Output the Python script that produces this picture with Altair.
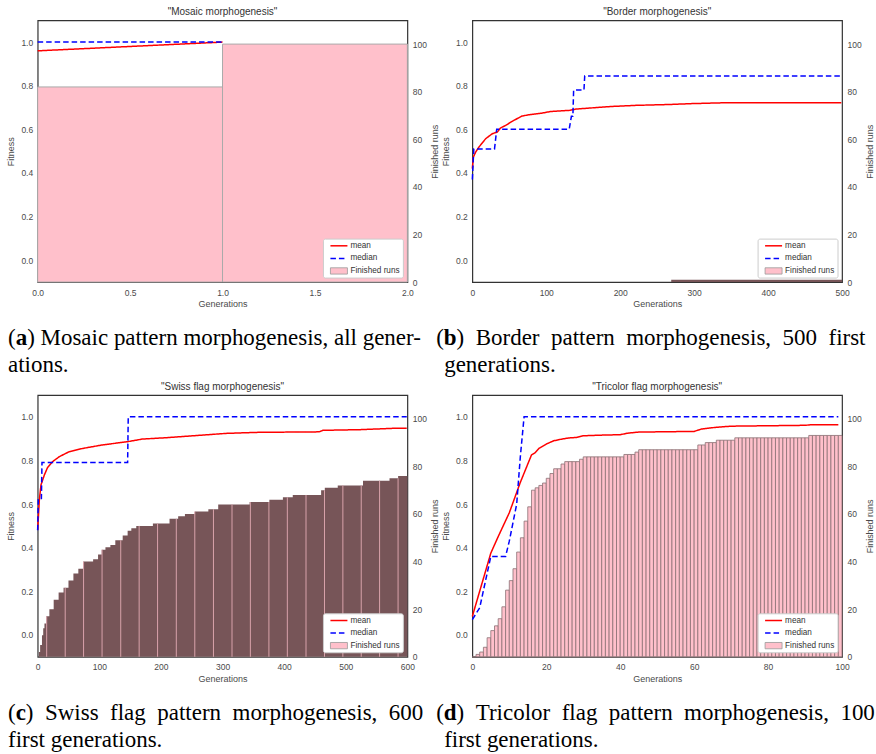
import bisect
import altair as alt
import pandas as pd

W, H = 370, 262
PINK = "#ffc0cb"
DARK = "#775558"

# ---------------- (a) Mosaic ----------------
a_bar_gen = [0, 1]
a_bar_runs = [82, 100]
a_mean_gen = [0, 1]
a_mean_fit = [0.96, 1.0]
a_median_gen = [0, 1]
a_median_fit = [1.0, 1.0]

# ---------------- (b) Border ----------------
b_step_gen = [269, 500]
b_step_runs = [1, 1]
b_mean_gen = [0, 1.4, 4.5, 9, 18, 27, 34, 38, 45, 54, 67, 77, 95, 106, 131, 140,
              176, 189, 221, 266, 297, 342, 401, 499]
b_mean_fit = [0.42, 0.473, 0.496, 0.519, 0.557, 0.58, 0.588, 0.606, 0.618, 0.637,
              0.661, 0.667, 0.675, 0.682, 0.687, 0.693, 0.702, 0.705, 0.71, 0.714,
              0.718, 0.722, 0.722, 0.722]
b_median_gen = [0, 2, 30, 33, 131, 134, 136, 137, 151, 152, 499]
b_median_fit = [0.37, 0.51, 0.51, 0.60, 0.60, 0.66, 0.66, 0.78, 0.78, 0.845, 0.845]

# ---------------- (c) Swiss flag ----------------
c_step_gen = [0, 2, 4, 7, 9, 11, 14, 19, 26, 34, 42, 50, 58, 66, 74, 90, 98, 104,
              110, 118, 126, 138, 146, 152, 160, 187, 214, 228, 239, 255, 277, 293,
              344, 376, 398, 414, 460, 466, 487, 528, 571, 585, 600]
c_step_runs = [0, 2, 5, 9, 12, 14, 17, 20, 24, 27, 29, 32, 35, 37, 40, 41, 43, 45,
               46, 47, 49, 51, 53, 54, 55, 56, 58, 59, 60, 61, 62, 64,
               65, 66, 67, 68, 70, 71, 72, 74, 75, 76, 76]
c_stripe_gen = [14.6, 44.7, 74.5, 104.5, 134.8, 164.7, 194.6, 225, 255, 285.3,
                315.4, 345.2, 375.3, 405.2, 435.5, 465.5, 495.3, 525.1, 554.9, 584.9]
c_mean_gen = [0, 2.7, 5.4, 10.8, 16, 24, 35, 51, 73, 105, 146, 170, 208, 252, 306,
              360, 414, 457, 463, 522, 576, 599]
c_mean_fit = [0.482, 0.619, 0.688, 0.733, 0.767, 0.794, 0.817, 0.840, 0.855, 0.871,
              0.886, 0.898, 0.904, 0.913, 0.924, 0.929, 0.93, 0.931, 0.938, 0.941,
              0.947, 0.947]
c_median_gen = [0, 1, 6, 7, 146, 147, 599]
c_median_fit = [0.48, 0.62, 0.62, 0.79, 0.79, 1.0, 1.0]

# ---------------- (d) Tricolor flag ----------------
d_bar_runs = [0, 1, 2, 4, 8, 11, 13, 16, 21, 28, 32, 37, 44, 50, 57, 63, 70, 71, 72, 73,
              75, 77, 79, 79, 81, 82, 82, 82, 82, 83, 84, 84, 84, 84, 84, 84, 84, 84, 84, 84,
              84, 85, 85, 85, 86, 87, 87, 87, 87, 87, 87, 87, 87, 87, 87, 87, 87, 87, 87, 87,
              87, 89, 89, 90, 90, 90, 91, 91, 91, 91, 91, 92, 92, 92, 92, 92, 92, 92, 92, 92,
              92, 92, 92, 92, 92, 92, 92, 92, 92, 92, 92, 93, 93, 93, 93, 93, 93, 93, 93, 93]
d_bar_gen = list(range(len(d_bar_runs)))
d_mean_gen = [0, 5, 7, 10, 13, 16, 17, 18, 20, 22, 24, 26, 28, 30, 35, 40, 42, 45, 60,
              62, 66, 70, 90, 92, 99]
d_mean_fit = [0.085, 0.375, 0.451, 0.56, 0.70, 0.825, 0.836, 0.855, 0.875, 0.89, 0.897,
              0.903, 0.905, 0.913, 0.916, 0.918, 0.925, 0.93, 0.933, 0.944, 0.952, 0.957,
              0.961, 0.964, 0.964]
d_median_gen = [0, 2, 5, 9, 10, 12, 13, 14, 99]
d_median_fit = [0.07, 0.125, 0.36, 0.36, 0.43, 0.6, 0.82, 1.0, 1.0]

ONE = pd.DataFrame({"k": [0]})
FIT_TICKS = [0.0, 0.2, 0.4, 0.6, 0.8, 1.0]
RUN_TICKS = [0, 20, 40, 60, 80, 100]


def xenc(dom, vals, fmt):
    return alt.X("gen:Q", scale=alt.Scale(domain=dom, nice=False, zero=False),
                 axis=alt.Axis(values=vals, format=fmt, title="Generations"))


def runs_y(field="runs", axis=True):
    return alt.Y(f"{field}:Q", scale=alt.Scale(domain=[0, 110], nice=False),
                 axis=alt.Axis(orient="right", values=RUN_TICKS, title="Finished runs",
                               titleAngle=270, titleBaseline="top") if axis else None)


def lines_layer(X, mg, mf, dg, df):
    ldf = pd.DataFrame({"gen": mg + dg, "fit": mf + df,
                        "series": ["mean"] * len(mg) + ["median"] * len(dg)})
    return alt.Chart(ldf).mark_line(strokeWidth=1.5).encode(
        x=X,
        y=alt.Y("fit:Q", scale=alt.Scale(domain=[-0.1, 1.1], nice=False, zero=False),
                axis=alt.Axis(orient="left", values=FIT_TICKS, format=".1f", title="Fitness")),
        color=alt.Color("series:N", scale=alt.Scale(domain=["mean", "median"],
                                                   range=["#ff0000", "#0000ff"]), legend=None),
        strokeDash=alt.StrokeDash("series:N", scale=alt.Scale(domain=["mean", "median"],
                                                            range=[[1, 0], [5.5, 3]]), legend=None),
    )


def legend_layers():
    b = alt.Chart(ONE)
    txt = dict(align="left", baseline="middle", font="Liberation Sans", fontSize=8.2, color="#333333")
    return [
        b.mark_rect(fill="white", stroke="#cccccc", strokeWidth=1, cornerRadius=2).encode(
            x=alt.value(W - 84), x2=alt.value(W - 4), y=alt.value(H - 43), y2=alt.value(H - 4)),
        b.mark_rule(color="#ff0000", strokeWidth=1.5).encode(
            x=alt.value(W - 77), x2=alt.value(W - 60), y=alt.value(H - 36.3)),
        b.mark_rule(color="#0000ff", strokeWidth=1.5, strokeDash=[5.5, 3]).encode(
            x=alt.value(W - 77), x2=alt.value(W - 60), y=alt.value(H - 23.7)),
        b.mark_rect(fill=PINK, stroke="#999999", strokeWidth=0.8).encode(
            x=alt.value(W - 77), x2=alt.value(W - 60), y=alt.value(H - 14.3), y2=alt.value(H - 8)),
        b.mark_text(**txt).encode(x=alt.value(W - 57), y=alt.value(H - 36.3), text=alt.value("mean")),
        b.mark_text(**txt).encode(x=alt.value(W - 57), y=alt.value(H - 23.7), text=alt.value("median")),
        b.mark_text(**txt).encode(x=alt.value(W - 57), y=alt.value(H - 11), text=alt.value("Finished runs")),
    ]


def caption_layers(letter, rest1, line2, x1, x2, boldw):
    b = alt.Chart(ONE)
    st = dict(font="Liberation Serif", fontSize=23, align="left", baseline="alphabetic", color="black")
    pw = 0.333 * 23
    return [
        b.mark_text(**st).encode(x=alt.value(x1), y=alt.value(H + 63), text=alt.value("(")),
        b.mark_text(fontWeight="bold", **st).encode(x=alt.value(x1 + pw), y=alt.value(H + 63),
                                                     text=alt.value(letter)),
        b.mark_text(**st).encode(x=alt.value(x1 + pw + boldw), y=alt.value(H + 63), text=alt.value(rest1)),
        b.mark_text(**st).encode(x=alt.value(x2), y=alt.value(H + 90), text=alt.value(line2)),
    ]


def panel(title, data_layers, lines, caps):
    return alt.layer(*data_layers, lines, *legend_layers(), *caps).resolve_scale(
        y="independent").properties(width=W, height=H, title=alt.TitleParams(title, anchor="middle"))


def bars(df, X, stroke, sw):
    return alt.Chart(df).mark_rect(fill=PINK, stroke=stroke, strokeWidth=sw).encode(
        x=X, x2="gen2:Q", y=runs_y(), y2="base:Q")


NB = " \u00a0"

# (a)
Xa = xenc([0, 2], [0, 0.5, 1.0, 1.5, 2.0], ".1f")
a_df = pd.DataFrame({"gen": a_bar_gen, "gen2": [g + 1 for g in a_bar_gen], "runs": a_bar_runs,
                     "base": [0] * len(a_bar_gen)})
pa = panel('"Mosaic morphogenesis"', [bars(a_df, Xa, "#aaaaaa", 1)],
           lines_layer(Xa, a_mean_gen, a_mean_fit, a_median_gen, a_median_fit),
           caption_layers("a", ") Mosaic pattern morphogenesis, all gener-", "ations.", -29.7, -29.7, 11.5))

# (b)
Xb = xenc([0, 500], [0, 100, 200, 300, 400, 500], "d")
b_df = pd.DataFrame({"gen": b_step_gen, "runs": b_step_runs})
b_area = alt.Chart(b_df).mark_area(interpolate="step-after", fill=DARK).encode(x=Xb, y=runs_y())
pb = panel('"Border morphogenesis"', [b_area],
           lines_layer(Xb, b_mean_gen, b_mean_fit, b_median_gen, b_median_fit),
           caption_layers("b", ")" + NB + "Border" + NB + "pattern" + NB + "morphogenesis," + NB + "500" + NB + "first",
                          "generations.", -36.2, -28.2, 12.8))

# (c)
Xc = xenc([0, 600], [0, 100, 200, 300, 400, 500, 600], "d")
c_df = pd.DataFrame({"gen": c_step_gen, "runs": c_step_runs})
c_area = alt.Chart(c_df).mark_area(interpolate="step-after", fill=DARK).encode(x=Xc, y=runs_y())
c_top = [c_step_runs[bisect.bisect_right(c_step_gen, g) - 1] for g in c_stripe_gen]
c_sdf = pd.DataFrame({"gen": c_stripe_gen, "top": c_top, "base": [0] * len(c_stripe_gen)})
c_stripes = alt.Chart(c_sdf).mark_rule(color="#d9a3ab", strokeWidth=1).encode(
    x=Xc, y=runs_y("top", axis=False), y2="base:Q")
pc = panel('"Swiss flag morphogenesis"', [c_area, c_stripes],
           lines_layer(Xc, c_mean_gen, c_mean_fit, c_median_gen, c_median_fit),
           caption_layers("c", ")" + NB + "Swiss" + NB + "flag" + NB + "pattern" + NB + "morphogenesis," + NB + "600",
                          "first generations.", -29.7, -29.7, 10.2))

# (d)
Xd = xenc([0, 100], [0, 20, 40, 60, 80, 100], "d")
d_df = pd.DataFrame({"gen": d_bar_gen, "gen2": [g + 1 for g in d_bar_gen], "runs": d_bar_runs,
                     "base": [0] * len(d_bar_gen)})
pd_ = panel('"Tricolor flag morphogenesis"', [bars(d_df, Xd, "#8a7074", 0.8)],
            lines_layer(Xd, d_mean_gen, d_mean_fit, d_median_gen, d_median_fit),
            caption_layers("d", ")" + NB + "Tricolor" + NB + "flag" + NB + "pattern" + NB + "morphogenesis," + NB + "100",
                           "first generations.", -36.2, -28.2, 12.8))

chart = alt.concat(pa, pb, pc, pd_, columns=2, spacing={"row": 113, "column": 65},
                   bounds="flush").properties(
    padding={"left": 5.7, "top": 6, "right": 0, "bottom": 0}
).configure_view(stroke="#333333", strokeWidth=1.2).configure_axis(
    grid=False, domain=False, ticks=False, labelFlush=False,
    labelFont="Liberation Sans", labelFontSize=8.5, labelColor="#4a4a4a", labelPadding=5,
    titleFont="Liberation Sans", titleFontSize=9, titleFontWeight="normal", titleColor="#4a4a4a",
).configure_axisBottom(labelPadding=6, titlePadding=3).configure_axisLeft(
    titlePadding=5).configure_axisRight(titlePadding=4).configure_title(
    font="Liberation Sans", fontSize=10, fontWeight="normal", color="#333333", offset=3)

chart.save("out.html", embed_options={"renderer": "svg", "actions": False})
